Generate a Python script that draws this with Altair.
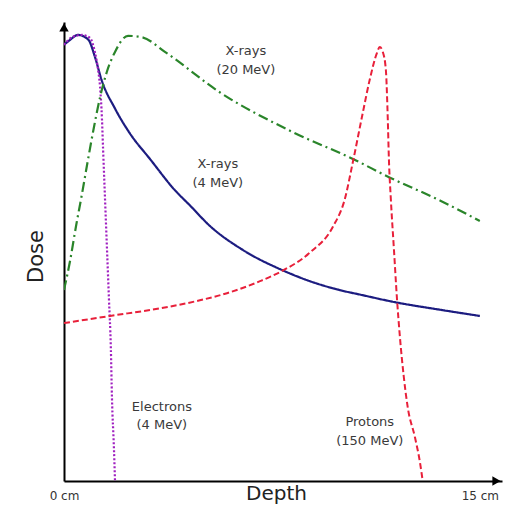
import altair as alt
import pandas as pd

# Depth in cm, relative dose (peak = 100)
xray4_depth = [0, 0.22, 0.50, 0.87, 1.12, 1.35, 1.84, 2.38, 3.10, 4.00, 4.54, 5.26, 6.45, 7.90, 8.87, 9.95, 10.67, 12.01, 13.56, 15.0]
xray4_dose = [97.8, 98.9, 100.0, 99.0, 95.0, 90.0, 83.5, 77.9, 72.2, 65.2, 61.8, 57.2, 51.8, 47.2, 44.8, 42.8, 41.8, 40.0, 38.4, 37.0]

elec_depth = [0, 0.29, 0.65, 0.94, 1.12, 1.23, 1.30, 1.37, 1.41, 1.48, 1.55, 1.62, 1.69, 1.73, 1.80, 1.84]
elec_dose = [97.8, 99.5, 100.0, 99.3, 96.0, 92.2, 88.4, 81.1, 74.4, 63.2, 52.1, 41.0, 29.8, 18.7, 7.6, 0.0]

xray20_depth = [0, 0.22, 0.43, 0.65, 0.87, 1.08, 1.30, 1.55, 1.84, 2.31, 2.81, 3.64, 5.63, 8.26, 10.42, 11.76, 13.56, 15.0]
xray20_dose = [42.8, 49.4, 57.0, 64.4, 72.2, 79.3, 86.0, 91.8, 96.2, 99.8, 99.5, 96.2, 87.1, 78.2, 72.2, 68.0, 62.9, 58.3]

proton_depth = [0, 1.66, 3.46, 4.90, 5.88, 7.07, 7.90, 8.87, 9.70, 10.13, 10.42, 10.78, 11.03, 11.29, 11.39, 11.50, 11.61, 11.68, 11.72, 11.79, 11.90, 12.01, 12.12, 12.26, 12.40, 12.66, 12.84, 12.94]
proton_dose = [35.4, 37.0, 38.7, 40.5, 42.1, 44.8, 47.2, 51.2, 57.0, 63.2, 71.5, 82.6, 90.0, 96.0, 97.3, 96.2, 92.2, 81.1, 72.2, 63.2, 52.1, 41.0, 32.1, 23.2, 16.5, 9.8, 4.2, 0.0]

label_text = ["X-rays", "(20 MeV)", "X-rays", "(4 MeV)", "Electrons", "(4 MeV)", "Protons", "(150 MeV)"]
label_x = [6.56, 6.56, 5.55, 5.55, 3.53, 3.53, 11.03, 11.03]
label_y = [96.4, 92.2, 71.0, 66.8, 16.5, 12.5, 13.2, 8.9]

x_ticks = [0, 15]
x_max = 15.8
y_max = 102.9

xs = alt.Scale(domain=[0, x_max], nice=False, zero=False)
ys = alt.Scale(domain=[0, y_max], nice=False, zero=False)

x_axis = alt.Axis(values=x_ticks, labelExpr="datum.value + ' cm'", ticks=False, grid=False,
                  domainColor="black", domainWidth=2, labelFlush=False, labelFontSize=12,
                  labelColor="#333333", labelPadding=9, labelFont="DejaVu Sans",
                  title="Depth", titleFontSize=20, titleFontWeight="normal", titleFont="DejaVu Sans",
                  titleColor="#222222", titleX=212, titleY=18, titleBaseline="alphabetic")
y_axis = alt.Axis(labels=False, ticks=False, grid=False, domainColor="black", domainWidth=2,
                  title="Dose", titleFontSize=21, titleFontWeight="normal", titleFont="DejaVu Sans",
                  titleColor="#222222", titleAngle=-90, titleX=-22, titleY=234,
                  titleBaseline="alphabetic")


def line(depth, dose, color, dash, width=2.0):
    df = pd.DataFrame({"depth": depth, "dose": dose})
    m = alt.Chart(df).mark_line(color=color, strokeWidth=width, interpolate="monotone",
                                strokeDash=dash, clip=True)
    return m.encode(x=alt.X("depth:Q", scale=xs, axis=x_axis), y=alt.Y("dose:Q", scale=ys, axis=y_axis))


blue = line(xray4_depth, xray4_dose, "#1c1c80", [1, 0], 2.2)
purple = line(elec_depth, elec_dose, "#a020c0", [2, 2], 2.2)
green = line(xray20_depth, xray20_dose, "#2a852a", [10, 4, 2, 4], 2.2)
red = line(proton_depth, proton_dose, "#e8203a", [6, 3], 2.0)

labels = alt.Chart(pd.DataFrame({"t": label_text, "x": label_x, "y": label_y})).mark_text(
    fontSize=13, color="#3a3a3a", font="DejaVu Sans", baseline="middle", align="center"
).encode(x=alt.X("x:Q", scale=xs), y=alt.Y("y:Q", scale=ys), text="t:N")

arrows = alt.Chart(pd.DataFrame({"x": [0, x_max - 0.2], "y": [y_max - 1.2, 0],
                                 "s": ["triangle-up", "triangle-right"]})).mark_point(
    filled=True, color="black", size=90, opacity=1, clip=False
).encode(x=alt.X("x:Q", scale=xs), y=alt.Y("y:Q", scale=ys),
         shape=alt.Shape("s:N", scale=None, legend=None))

chart = alt.layer(blue, purple, green, red, labels, arrows).properties(
    width=438, height=459,
    autosize=alt.AutoSizeParams(type="none"),
    padding={"left": 56, "top": 14, "right": 1, "bottom": 23},
    background="white",
).configure_view(stroke=None)

chart.save("out.html", embed_options={"renderer": "svg", "actions": False})
